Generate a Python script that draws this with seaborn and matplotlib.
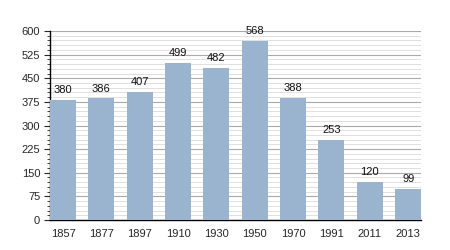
import matplotlib
matplotlib.use("Agg")
import matplotlib.pyplot as plt
from matplotlib.ticker import MultipleLocator
import seaborn as sns
import pandas as pd

years = ["1857", "1877", "1897", "1910", "1930", "1950", "1970", "1991", "2011", "2013"]
population = [380, 386, 407, 499, 482, 568, 388, 253, 120, 99]

df = pd.DataFrame({"year": years, "pop": population})

sns.set_style("white")
plt.rcParams['font.family'] = ['Liberation Sans', 'DejaVu Sans']

fig = plt.figure(figsize=(4.5, 2.5), dpi=100)
ax = fig.add_axes([0.111, 0.12, 0.825, 0.756])

sns.barplot(data=df, x="year", y="pop", color="#9ab4d0", saturation=1, width=0.68,
            edgecolor="none", linewidth=0, ax=ax, zorder=3)

for i, v in enumerate(population):
    ax.annotate(str(v), (i, v), xytext=(0, 3.5), textcoords="offset points",
                ha="center", va="bottom", fontsize=8, color="#111111")

ax.set_ylim(0, 600)
ax.set_xlim(-0.34, 9.34)
ax.yaxis.set_major_locator(MultipleLocator(75))
ax.yaxis.set_minor_locator(MultipleLocator(15))
ax.grid(which="major", axis="y", color="#aaaaaa", linewidth=0.8, zorder=0)
ax.grid(which="minor", axis="y", color="#e0e0e0", linewidth=0.7, zorder=0)
ax.set_axisbelow(True)
ax.set_xlabel("")
ax.set_ylabel("")
for s in ["top", "right"]:
    ax.spines[s].set_visible(False)
ax.spines["left"].set_color("black")
ax.spines["bottom"].set_color("black")
ax.spines["left"].set_linewidth(1)
ax.spines["bottom"].set_linewidth(1)
ax.tick_params(axis="y", which="major", left=True, length=4, width=0.8, labelsize=8, pad=3)
ax.tick_params(axis="y", which="minor", left=True, length=2, width=0.6)
ax.tick_params(axis="x", bottom=False, labelsize=8, pad=3)

fig.savefig("out.png", dpi=100)
